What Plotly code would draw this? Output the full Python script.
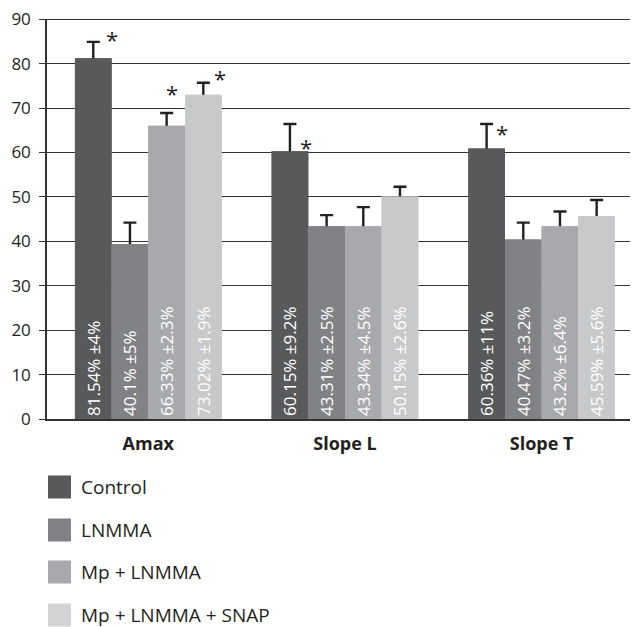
import plotly.graph_objects as go

categories = ["Amax", "Slope L", "Slope T"]
series_names = ["Control", "LNMMA", "Mp + LNMMA", "Mp + LNMMA + SNAP"]
colors = ["#58595b", "#808285", "#a7a9ac", "#c8c9cb"]
legend_colors = ["#58595b", "#808285", "#a7a9ac", "#d1d3d4"]

values = [
    [81.2, 60.3, 60.9],
    [39.4, 43.4, 40.4],
    [66.0, 43.4, 43.4],
    [73.0, 50.1, 45.7],
]
err_upper = [
    [3.7, 6.1, 5.5],
    [4.8, 2.5, 3.8],
    [2.9, 4.3, 3.3],
    [2.7, 2.2, 3.6],
]
labels = [
    ["81.54% ±4%", "60.15% ±9.2%", "60.36% ±11%"],
    ["40.1% ±5%", "43.31% ±2.5%", "40.47% ±3.2%"],
    ["66.33% ±2.3%", "43.34% ±4.5%", "43.2% ±6.4%"],
    ["73.02% ±1.9%", "50.15% ±2.6%", "45.59% ±5.6%"],
]
# significance stars: (series index, category index, y value, x pixel shift)
stars = [
    (0, 0, 86.6, 19),
    (2, 0, 74.5, 5),
    (3, 0, 77.9, 16),
    (0, 1, 62.3, 17),
    (0, 2, 65.5, 16),
]
y_ticks = [0, 10, 20, 30, 40, 50, 60, 70, 80, 90]

FONT = "Open Sans"
GRID = "#333333"
fig = go.Figure()
for i, name in enumerate(series_names):
    # bar carrying the (upper-only) error bar
    fig.add_trace(go.Bar(
        name=name, x=categories, y=values[i], offsetgroup=str(i),
        marker=dict(color=colors[i], line=dict(width=0)),
        error_y=dict(type="data", symmetric=False, array=err_upper[i],
                     arrayminus=[0.8] * len(categories),
                     color="#231f20", thickness=2.4, width=6.5),
        showlegend=False, hoverinfo="skip",
    ))
    # same bar drawn on top to hide the lower cap, carrying the label
    fig.add_trace(go.Bar(
        name=name, x=categories, y=values[i], offsetgroup=str(i),
        marker=dict(color=colors[i], line=dict(width=0)),
        text=labels[i], textposition="inside", textangle=-90,
        insidetextanchor="start",
        textfont=dict(family=FONT, size=17, color="white"),
        showlegend=False,
    ))

offset_px = [-55.5, -18.5, 18.5, 55.5]
for s, c, yv, dx in stars:
    fig.add_annotation(x=categories[c], y=yv, text="*", showarrow=False,
                       xshift=offset_px[s] + dx, yshift=-5,
                       font=dict(family=FONT, size=22, color="#231f20"))

# top gridline (at the upper edge of the value axis)
fig.add_shape(type="line", xref="paper", yref="y", x0=0, x1=1,
              y0=y_ticks[-1], y1=y_ticks[-1], line=dict(color=GRID, width=1.5),
              layer="below")

# custom legend (positions in reference pixels, converted to paper coords)
legend_y = [487, 530, 572, 615]
for i, name in enumerate(series_names):
    yc = legend_y[i]
    fig.add_shape(type="rect", xref="paper", yref="paper",
                  x0=(48 - 47) / 591, x1=(71 - 47) / 591,
                  y0=(419 - (yc + 11.5)) / 400, y1=(419 - (yc - 11.5)) / 400,
                  fillcolor=legend_colors[i], line=dict(width=0))
    fig.add_annotation(xref="paper", yref="paper", x=(79 - 47) / 591,
                       y=(419 - yc) / 400, text=name, showarrow=False,
                       xanchor="left", yanchor="middle",
                       font=dict(family=FONT, size=19, color="#231f20"))

fig.update_layout(
    width=630, height=619,
    margin=dict(l=39, r=0, t=11, b=208),
    barmode="group", bargap=0.254, bargroupgap=0,
    plot_bgcolor="white", paper_bgcolor="white",
    font=dict(family=FONT, size=16, color="#231f20"),
)
fig.update_xaxes(
    range=[-0.515, 2.49], showgrid=False, showline=True,
    linecolor=GRID, linewidth=1.5, ticks="",
    tickvals=categories,
    ticktext=["<b>%s</b>" % c for c in categories],
    ticklabelstandoff=8,
    tickfont=dict(family=FONT, size=18, color="#231f20"),
)
fig.update_yaxes(
    range=[0, 90.05], tickvals=y_ticks, showgrid=True, gridcolor=GRID,
    gridwidth=1.3, showline=True, linecolor=GRID, linewidth=1.5,
    ticks="outside", ticklen=6, tickcolor=GRID, zeroline=False,
    ticklabeloverflow="allow", ticklabelstandoff=5,
    tickfont=dict(family=FONT, size=17, color="#231f20"),
)

fig.write_html("out.html")
